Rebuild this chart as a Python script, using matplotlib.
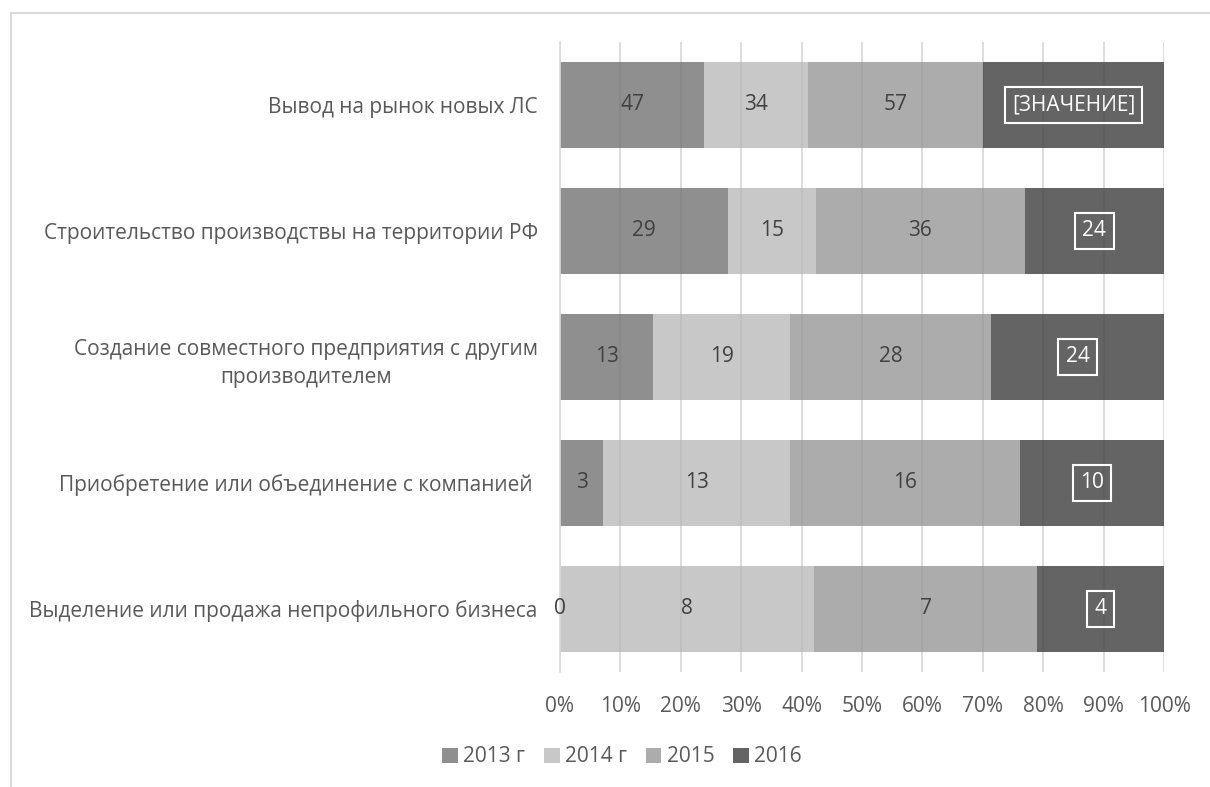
import matplotlib
matplotlib.use("Agg")
import matplotlib.pyplot as plt
import numpy as np
from matplotlib.lines import Line2D
from matplotlib.ticker import PercentFormatter

plt.rcParams['font.family'] = ['Open Sans', 'DejaVu Sans']

# categories top to bottom
categories = [
    "Вывод на рынок новых ЛС",
    "Строительство производствы на территории РФ",
    "Создание совместного предприятия с другим\nпроизводителем",
    "Приобретение или объединение с компанией ",
    "Выделение или продажа непрофильного бизнеса",
]
series_names = ["2013 г", "2014 г", "2015", "2016"]
v2013 = [47, 29, 13, 3, 0]
v2014 = [34, 15, 19, 13, 8]
v2015 = [57, 36, 28, 16, 7]
v2016 = [59, 24, 24, 10, 4]
labels2016 = ["[ЗНАЧЕНИЕ]", "24", "24", "10", "4"]

colors = ["#8f8f8f", "#c8c8c8", "#acacac", "#646464"]
text_dark = "#404040"
fs = 15

data = np.array([v2013, v2014, v2015, v2016], dtype=float)
totals = data.sum(axis=0)
shares = data / totals * 100

fig = plt.figure(figsize=(12.1, 7.87), dpi=100)
W, H = 1210, 787
ax = fig.add_axes([560 / W, 1 - 672 / H, (1164 - 560) / W, (672 - 42) / H])

y = np.arange(len(categories))
left = np.zeros(len(categories))
for i, name in enumerate(series_names):
    ax.barh(y, shares[i], left=left, height=0.675, color=colors[i],
            label=name, zorder=2)
    for j in range(len(categories)):
        cx = left[j] + shares[i][j] / 2
        if i == 3:
            ax.text(cx, y[j], labels2016[j], ha='center', va='center',
                    fontsize=fs, color='white', zorder=4,
                    bbox=dict(boxstyle='square,pad=0.35', fc='none',
                              ec='white', lw=1.5))
        else:
            ax.text(cx, y[j], str(int(data[i][j])), ha='center', va='center',
                    fontsize=fs, color=text_dark, zorder=4)
    left += shares[i]

ax.set_xlim(0, 100)
ax.set_ylim(len(categories) - 0.5, -0.5)
ax.set_xticks(np.arange(0, 101, 10))
ax.xaxis.set_major_formatter(PercentFormatter(decimals=0))
ax.set_yticks(y)
ax.set_yticklabels(categories, multialignment='center', linespacing=1.45)
ax.tick_params(axis='y', length=0, pad=16, labelsize=fs, labelcolor='#595959')
ax.tick_params(axis='x', length=0, pad=17, labelsize=fs, labelcolor='#595959')
ax.grid(axis='x', color='#e3e3e3', lw=1.2, zorder=1)
for xv in np.arange(10, 101, 10):
    ax.axvline(xv, color='#000000', alpha=0.05, lw=1.2, zorder=3)
for s in ['top', 'right', 'bottom']:
    ax.spines[s].set_visible(False)
ax.spines['left'].set_color('#d9d9d9')
ax.spines['left'].set_linewidth(1.2)

handles, lbls = ax.get_legend_handles_labels()
fig.legend(handles, lbls, loc='center', bbox_to_anchor=(622 / W, 1 - 757 / H),
           ncol=4, frameon=False, fontsize=fs, handlelength=0.75,
           handleheight=0.75, handletextpad=0.25, columnspacing=0.9,
           labelcolor='#595959')

# outer frame
fig.add_artist(Line2D([11 / W, 1], [1 - 13 / H, 1 - 13 / H], color='#d9d9d9', lw=1.5))
fig.add_artist(Line2D([11 / W, 11 / W], [0, 1 - 13 / H], color='#d9d9d9', lw=1.5))

fig.savefig("out.png", dpi=100)
